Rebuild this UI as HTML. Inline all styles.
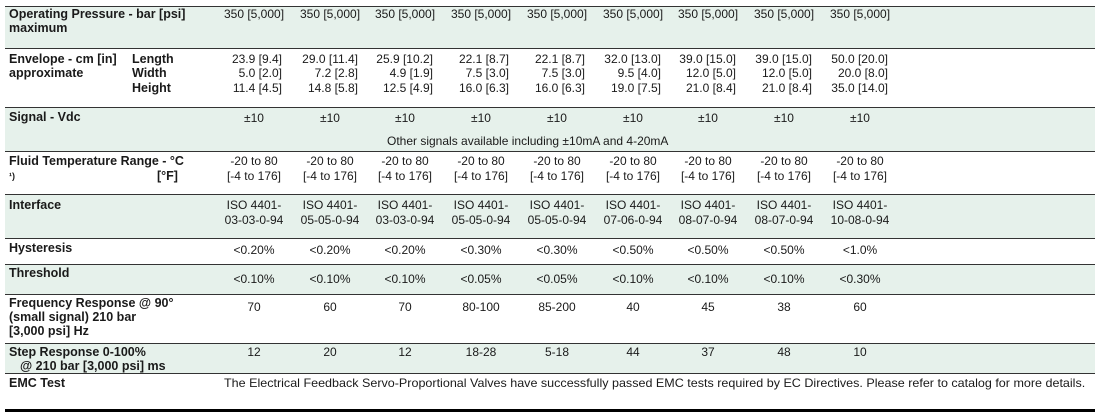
<!DOCTYPE html>
<html><head><meta charset="utf-8"><style>
html,body{margin:0;padding:0;background:#fff;}
body{width:1095px;height:414px;position:relative;overflow:hidden;font-family:"Liberation Sans",Arial,sans-serif;font-size:12px;color:#1a1a1a;}
.bg{position:absolute;left:5px;right:0;background:#e6f1eb;}
.ln{position:absolute;left:5px;right:0;height:1px;background:#333;}
.t{position:absolute;line-height:14px;white-space:nowrap;}
.b{font-weight:bold;font-size:12.5px;}
.c{position:absolute;width:80px;text-align:center;line-height:14px;white-space:nowrap;}
.r{position:absolute;width:58px;text-align:right;line-height:14px;white-space:nowrap;}
</style></head><body>
<div class="bg" style="top:6px;height:42px"></div>
<div class="bg" style="top:107px;height:44px"></div>
<div class="bg" style="top:194px;height:44px"></div>
<div class="bg" style="top:264px;height:30px"></div>
<div class="bg" style="top:343px;height:30px"></div>
<div class="ln" style="top:6px"></div>
<div class="ln" style="top:48px"></div>
<div class="ln" style="top:107px"></div>
<div class="ln" style="top:151px"></div>
<div class="ln" style="top:194px"></div>
<div class="ln" style="top:238px"></div>
<div class="ln" style="top:264px"></div>
<div class="ln" style="top:294px"></div>
<div class="ln" style="top:343px"></div>
<div class="ln" style="top:373px"></div>
<div class="ln" style="top:409px;height:3px;background:#000"></div>

<div class="t b" style="left:9px;top:7px">Operating Pressure - bar [psi]</div>
<div class="t b" style="left:9px;top:21px">maximum</div>
<div class="t b" style="left:9px;top:52px">Envelope - cm [in]</div>
<div class="t b" style="left:9px;top:66px">approximate</div>
<div class="t b" style="left:132px;top:52px">Length</div>
<div class="t b" style="left:132px;top:66px">Width</div>
<div class="t b" style="left:132px;top:81px">Height</div>
<div class="t b" style="left:9px;top:110px">Signal - Vdc</div>
<div class="t b" style="left:9px;top:154px">Fluid Temperature Range - °C</div>
<div class="t b" style="left:9px;top:169px;font-size:9px">¹)</div>
<div class="t b" style="left:157px;top:169px">[°F]</div>
<div class="t b" style="left:9px;top:198px">Interface</div>
<div class="t b" style="left:9px;top:241px">Hysteresis</div>
<div class="t b" style="left:9px;top:266px">Threshold</div>
<div class="t b" style="left:9px;top:296px">Frequency Response @ 90°</div>
<div class="t b" style="left:9px;top:310px">(small signal) 210 bar</div>
<div class="t b" style="left:9px;top:324px">[3,000 psi] Hz</div>
<div class="t b" style="left:9px;top:345px">Step Response 0-100%</div>
<div class="t b" style="left:20px;top:359px">@ 210 bar [3,000 psi] ms</div>
<div class="t b" style="left:9px;top:376px">EMC Test</div>
<div class="t" style="left:387px;top:134px">Other signals available including ±10mA and 4-20mA</div>
<div class="t" style="left:224px;top:376px;transform-origin:0 0;transform:scaleX(1.045)">The Electrical Feedback Servo-Proportional Valves have successfully passed EMC tests required by EC Directives. Please refer to catalog for more details.</div>
<div id="cols"></div>
<script>
var C=[254,330,405,481,557,633,708,784,860];
var press="350 [5,000]";
var L=["23.9 [9.4]","29.0 [11.4]","25.9 [10.2]","22.1 [8.7]","22.1 [8.7]","32.0 [13.0]","39.0 [15.0]","39.0 [15.0]","50.0 [20.0]"];
var W=["5.0 [2.0]","7.2 [2.8]","4.9 [1.9]","7.5 [3.0]","7.5 [3.0]","9.5 [4.0]","12.0 [5.0]","12.0 [5.0]","20.0 [8.0]"];
var H=["11.4 [4.5]","14.8 [5.8]","12.5 [4.9]","16.0 [6.3]","16.0 [6.3]","19.0 [7.5]","21.0 [8.4]","21.0 [8.4]","35.0 [14.0]"];
var I=["03-03-0-94","05-05-0-94","03-03-0-94","05-05-0-94","05-05-0-94","07-06-0-94","08-07-0-94","08-07-0-94","10-08-0-94"];
var Hy=["<0.20%","<0.20%","<0.20%","<0.30%","<0.30%","<0.50%","<0.50%","<0.50%","<1.0%"];
var Th=["<0.10%","<0.10%","<0.10%","<0.05%","<0.05%","<0.10%","<0.10%","<0.10%","<0.30%"];
var F=["70","60","70","80-100","85-200","40","45","38","60"];
var S=["12","20","12","18-28","5-18","44","37","48","10"];
var h="";
function c(x,y,s){h+='<div class="c" style="left:'+(x-40)+'px;top:'+y+'px">'+s.replace(/</g,"&lt;")+'</div>';}
function r(x,y,s){h+='<div class="r" style="left:'+(x-30)+'px;top:'+y+'px">'+s+'</div>';}
for(var i=0;i<9;i++){var x=C[i];
c(x,7,press);r(x,52,L[i]);r(x,66,W[i]);r(x,81,H[i]);
c(x,111,"±10");c(x,154,"-20 to 80");c(x,169,"[-4 to 176]");
c(x,198,"ISO 4401-");c(x,213,I[i]);c(x,243,Hy[i]);c(x,272,Th[i]);
c(x,300,F[i]);c(x,345,S[i]);}
document.getElementById("cols").innerHTML=h;
</script>
</body></html>
